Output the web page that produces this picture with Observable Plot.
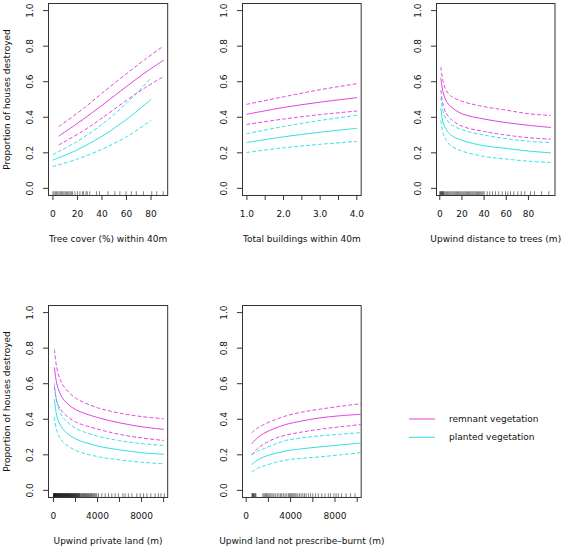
<!DOCTYPE html>
<html><head><meta charset="utf-8">
<script src="https://cdn.jsdelivr.net/npm/d3@7"></script>
<script src="https://cdn.jsdelivr.net/npm/@observablehq/plot@0.6"></script>
<style>
body{margin:0;background:#fff;}
#wrap{position:relative;width:563px;height:547px;overflow:hidden;font-family:"DejaVu Sans";background:#fff;}
#wrap > svg{position:absolute;}
</style></head><body><div id="wrap"></div>
<script>
// ---------- data ----------
const yTicks = [0, 0.2, 0.4, 0.6, 0.8, 1.0];
const seriesNames = ["remnant vegetation", "planted vegetation"];
const seriesColors = ["#e040e0", "#30e0e0"];

// Panel 1: Tree cover (%) within 40m
const p1Title = "Tree cover (%) within 40m";
const p1XTicks = [0, 20, 40, 60, 80];
const p1RemX = [5, 25, 40, 60, 75, 90];
const p1RemFit = [0.295, 0.39, 0.467, 0.573, 0.65, 0.72];
const p1RemUp  = [0.348, 0.45, 0.535, 0.645, 0.725, 0.80];
const p1RemLo  = [0.245, 0.325, 0.395, 0.495, 0.565, 0.628];
const p1PlaX = [0, 20, 40, 60, 80];
const p1PlaFit = [0.159, 0.217, 0.293, 0.388, 0.50];
const p1PlaUp  = [0.19, 0.265, 0.36, 0.48, 0.62];
const p1PlaLo  = [0.123, 0.165, 0.22, 0.29, 0.383];
const p1Rug = [0,1,2,3,4,5,6,7,8,9,10,11,12,13,14,15,16,18,20,22,24,25,27,28,30,35.5,38,45,50.5,54.6,59.6,64,68,73.8,80.6,84.7,90];

// Panel 2: Total buildings within 40m
const p2Title = "Total buildings within 40m";
const p2XTicks = [1, 1.5, 2, 2.5, 3, 3.5, 4];
const p2X = [1, 2, 3, 4];
const p2RemFit = [0.417, 0.455, 0.485, 0.51];
const p2RemUp  = [0.473, 0.515, 0.555, 0.589];
const p2RemLo  = [0.36, 0.39, 0.415, 0.435];
const p2PlaFit = [0.258, 0.29, 0.316, 0.338];
const p2PlaUp  = [0.308, 0.348, 0.382, 0.411];
const p2PlaLo  = [0.202, 0.228, 0.248, 0.264];

// Panel 3: Upwind distance to trees (m)
const p3Title = "Upwind distance to trees (m)";
const p3XTicks = [0, 20, 40, 60, 80];
const p3X = [1, 3, 6, 10, 20, 40, 60, 80, 100];
const p3RemFit = [0.62, 0.54, 0.49, 0.46, 0.42, 0.39, 0.37, 0.355, 0.343];
const p3RemUp  = [0.68, 0.60, 0.55, 0.52, 0.49, 0.46, 0.44, 0.42, 0.41];
const p3RemLo  = [0.55, 0.47, 0.42, 0.39, 0.35, 0.32, 0.30, 0.285, 0.277];
const p3PlaFit = [0.45, 0.37, 0.33, 0.30, 0.27, 0.24, 0.225, 0.21, 0.20];
const p3PlaUp  = [0.51, 0.43, 0.39, 0.36, 0.33, 0.30, 0.28, 0.265, 0.258];
const p3PlaLo  = [0.38, 0.31, 0.27, 0.24, 0.21, 0.18, 0.165, 0.153, 0.146];
const p3Rug = [0,0.5,1,1.5,2,2.5,3,3.5,4,5,6,7,8,9,10,11,12,13,14,15,16,17,18,19,20,21,22,23,24,25,26,27,28,29,30,31,32,33,34,35,36,37,38,39,40,
  42.8,45.1,47.6,50.3,53.2,56.3,59.3,61.4,63.8,66.8,70.4,73.5,76.7,81.9,85.5,91.8,98.4];

// Panel 4: Upwind private land (m)
const p4Title = "Upwind private land (m)";
const p4XTicks = [0, 2000, 4000, 6000, 8000, 10000];
const p4X = [90, 300, 600, 1000, 2000, 4000, 6000, 8000, 10000];
const p4RemFit = [0.69, 0.60, 0.545, 0.505, 0.455, 0.41, 0.38, 0.358, 0.343];
const p4RemUp  = [0.79, 0.69, 0.625, 0.58, 0.52, 0.465, 0.435, 0.415, 0.403];
const p4RemLo  = [0.58, 0.50, 0.46, 0.43, 0.385, 0.345, 0.315, 0.295, 0.281];
const p4PlaFit = [0.51, 0.42, 0.37, 0.335, 0.29, 0.25, 0.228, 0.212, 0.203];
const p4PlaUp  = [0.60, 0.50, 0.44, 0.40, 0.35, 0.305, 0.28, 0.263, 0.253];
const p4PlaLo  = [0.41, 0.335, 0.295, 0.265, 0.225, 0.19, 0.172, 0.158, 0.15];
const p4Rug = [0,20,45,70,90,115,140,160,185,210,240,265,290,320,345,370,400,430,455,480,510,540,570,600,630,660,690,720,750,785,810,840,870,900,935,960,990,
  1020,1050,1085,1110,1140,1175,1200,1230,1265,1290,1320,1355,1380,1410,1445,1470,1500,1540,1570,1600,1640,1670,1700,1740,1770,1800,1840,1870,1910,
  1940,1980,2010,2050,2090,2120,2160,2200,2240,2280,2320,2360,2400,
  2470,2530,2600,2660,2720,2790,2850,2910,2980,3040,3110,3170,3240,3310,3380,3450,3520,3600,3680,3760,3850,3940,
  4090,4400,4700,5000,5300,5600,5900,6300,6500,6800,7120,7570,7880,8180,8480,8840,9230,9530,9760,10060];

// Panel 5: Upwind land not prescribe-burnt (m)
const p5Title = "Upwind land not prescribe\u2013burnt (m)";
const p5XTicks = [0, 2000, 4000, 6000, 8000, 10000];
const p5X = [510, 1000, 1570, 2500, 3530, 5000, 6550, 8500, 10360];
const p5RemFit = [0.263, 0.295, 0.32, 0.347, 0.37, 0.39, 0.407, 0.42, 0.428];
const p5RemUp  = [0.325, 0.35, 0.37, 0.395, 0.418, 0.44, 0.456, 0.473, 0.488];
const p5RemLo  = [0.20, 0.235, 0.26, 0.29, 0.31, 0.328, 0.343, 0.358, 0.37];
const p5PlaFit = [0.146, 0.17, 0.188, 0.206, 0.221, 0.234, 0.244, 0.256, 0.266];
const p5PlaUp  = [0.20, 0.22, 0.234, 0.258, 0.28, 0.295, 0.306, 0.316, 0.325];
const p5PlaLo  = [0.105, 0.123, 0.137, 0.155, 0.17, 0.18, 0.188, 0.20, 0.212];
const p5Rug = [520,560,600,640,700,760,820,880,
  1500,1600,1700,1780,1850,1950,2050,2150,2250,2400,2500,2650,2800,2950,3100,3200,
  3350,3500,3650,3800,3900,4000,4100,4200,4300,4400,4500,4650,4800,4950,5100,5250,5400,5600,
  5800,6000,6250,6500,6800,7100,7400,7600,
  7900,8100,8300,8600,9000,9400,9800];

const yTitle = "Proportion of houses destroyed";

// ---------- drawing ----------
const FONT = "DejaVu Sans";
const FS = 9;
const TXT = "#111";
const wrap = document.getElementById("wrap");

function rows(xs, ys) { return xs.map((x, i) => ({x, y: ys[i]})); }

function panel({left, top, w, h, xDomain, xTicks, xFmt, rem, pla, rug, xTitle, showY}) {
  const mL = 50, mR = 6, mT = 4, mB = 52;
  const marks = [];
  const sets = [[rem, seriesColors[0]], [pla, seriesColors[1]]];
  for (const [s, c] of sets) {
    marks.push(Plot.line(rows(s.x, s.up), {x: "x", y: "y", stroke: c, strokeWidth: 1, strokeDasharray: "3,3", curve: "catmull-rom", clip: true}));
    marks.push(Plot.line(rows(s.x, s.lo), {x: "x", y: "y", stroke: c, strokeWidth: 1, strokeDasharray: "3,3", curve: "catmull-rom", clip: true}));
    marks.push(Plot.line(rows(s.x, s.fit), {x: "x", y: "y", stroke: c, strokeWidth: 1, curve: "catmull-rom", clip: true}));
  }
  if (rug) marks.push(Plot.ruleX(rug, {x: d => d, y1: -0.04, y2: -0.019, stroke: "#000", strokeWidth: 0.5}));
  marks.push(Plot.frame({stroke: "#333", strokeWidth: 1}));
  marks.push(Plot.axisY(yTicks, {tickSize: 5, tickPadding: 13.5, tickRotate: -90, textAnchor: "middle", lineAnchor: "middle", tickFormat: d3.format(".1f"), label: null, stroke: "#333", fill: TXT}));
  marks.push(Plot.axisX(xTicks, {tickSize: 5, tickPadding: 13.5, lineAnchor: "middle", tickFormat: xFmt, label: null, stroke: "#333", fill: TXT}));
  marks.push(Plot.text([xTitle], {frameAnchor: "bottom", dy: 43.5, textAnchor: "middle", lineAnchor: "middle", fill: TXT}));
  if (showY) marks.push(Plot.text([yTitle], {frameAnchor: "left", dx: -41, rotate: -90, textAnchor: "middle", lineAnchor: "middle", fill: TXT}));
  const p = Plot.plot({
    width: w + mL + mR, height: h + mT + mB,
    marginLeft: mL, marginRight: mR, marginTop: mT, marginBottom: mB,
    x: {domain: xDomain},
    y: {domain: [-0.04, 1.04]},
    style: {fontFamily: FONT, fontSize: FS + "px", color: TXT, background: "transparent", overflow: "visible"},
    marks
  });
  p.style.left = (left - mL) + "px";
  p.style.top = (top - mT) + "px";
  wrap.appendChild(p);
}

const fmtInt = d => String(d);
panel({left: 48.3, top: 2.5, w: 119.2, h: 192, xDomain: [-3.6, 93.6], xTicks: p1XTicks, xFmt: fmtInt,
  rem: {x: p1RemX, fit: p1RemFit, up: p1RemUp, lo: p1RemLo}, pla: {x: p1PlaX, fit: p1PlaFit, up: p1PlaUp, lo: p1PlaLo},
  rug: p1Rug, xTitle: p1Title, showY: true});
panel({left: 242.3, top: 2.5, w: 118.7, h: 192, xDomain: [0.88, 4.12], xTicks: p2XTicks, xFmt: d => (d % 1 === 0 ? d3.format(".1f")(d) : ""),
  rem: {x: p2X, fit: p2RemFit, up: p2RemUp, lo: p2RemLo}, pla: {x: p2X, fit: p2PlaFit, up: p2PlaUp, lo: p2PlaLo},
  rug: null, xTitle: p2Title, showY: false});
panel({left: 436, top: 2.5, w: 118.5, h: 192, xDomain: [-2.96, 103.96], xTicks: p3XTicks, xFmt: fmtInt,
  rem: {x: p3X, fit: p3RemFit, up: p3RemUp, lo: p3RemLo}, pla: {x: p3X, fit: p3PlaFit, up: p3PlaUp, lo: p3PlaLo},
  rug: p3Rug, xTitle: p3Title, showY: false});
panel({left: 48.3, top: 304.5, w: 119.2, h: 192, xDomain: [-450, 10370], xTicks: p4XTicks, xFmt: d => (d % 4000 === 0 ? String(d) : ""),
  rem: {x: p4X, fit: p4RemFit, up: p4RemUp, lo: p4RemLo}, pla: {x: p4X, fit: p4PlaFit, up: p4PlaUp, lo: p4PlaLo},
  rug: p4Rug, xTitle: p4Title, showY: true});
panel({left: 242.3, top: 304.5, w: 118.7, h: 192, xDomain: [-335, 10360], xTicks: p5XTicks, xFmt: d => (d % 4000 === 0 ? String(d) : ""),
  rem: {x: p5X, fit: p5RemFit, up: p5RemUp, lo: p5RemLo}, pla: {x: p5X, fit: p5PlaFit, up: p5PlaUp, lo: p5PlaLo},
  rug: p5Rug, xTitle: p5Title, showY: false});

// legend
const lg = d3.select(wrap).append("svg")
  .attr("width", 160).attr("height", 40)
  .style("left", "400px").style("top", "405px")
  .style("font-family", FONT).style("font-size", FS + "px");
seriesNames.forEach((name, i) => {
  const y = 14 + i * 18.3;
  lg.append("line").attr("x1", 9).attr("x2", 35).attr("y1", y).attr("y2", y)
    .attr("stroke", seriesColors[i]).attr("stroke-width", 1);
  lg.append("text").attr("x", 49).attr("y", y).attr("dy", "0.35em").attr("fill", TXT).text(name);
});
</script></body></html>
